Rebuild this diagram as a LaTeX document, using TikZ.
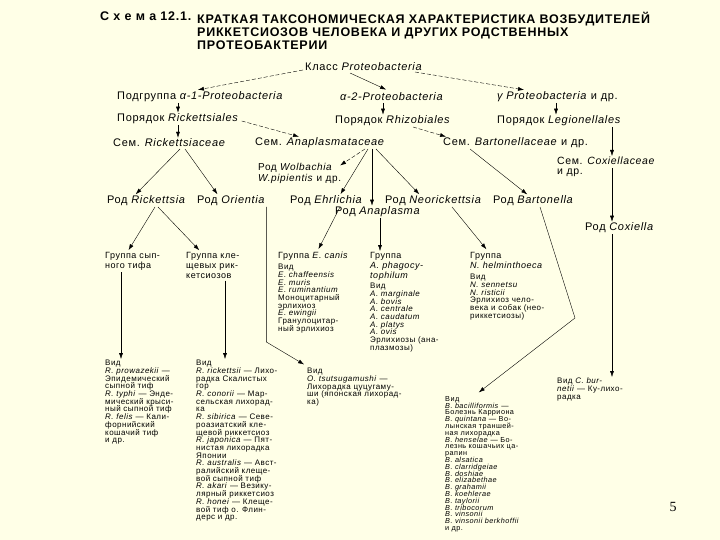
\documentclass[tikz,border=0pt]{standalone}
\usepackage{fontspec}
\setmainfont{Liberation Sans}[LetterSpace=6]
\newfontfamily\pagefont{Liberation Serif}
\usetikzlibrary{arrows.meta}
\definecolor{paper}{RGB}{255,255,231}
\newcommand{\tightlines}{\lineskiplimit=-\maxdimen}

\begin{document}
\begin{tikzpicture}[x=1pt, y=-1pt,
      font=\fontsize{11}{12}\selectfont,
      lbl/.style={anchor=west, inner sep=0pt},
      grp/.style={anchor=north west, inner sep=0pt, align=left,
                  font=\fontsize{9}{10}\selectfont},
      spc/.style={anchor=north west, inner sep=0pt, align=left,
                  font=\fontsize{8}{7.7}\selectfont\tightlines},
      arr/.style={-{Latex[length=6pt,width=4pt]}, thin, shorten >=1pt},
      darr/.style={arr, dash pattern=on 4pt off 2pt}
    ]
    \fill[paper] (0,0) rectangle (720,540);

    % title
    \node[anchor=north west, inner sep=0pt, font=\bfseries\fontsize{12.5}{13}\selectfont]
      (schema) at (100,12) {С х е м а 12.1.};
    \node[anchor=north west, inner sep=0pt, align=left,
          font=\bfseries\fontsize{12.5}{13}\selectfont] (title) at (197,12)
      {КРАТКАЯ ТАКСОНОМИЧЕСКАЯ ХАРАКТЕРИСТИКА ВОЗБУДИТЕЛЕЙ\\
       РИККЕТСИОЗОВ ЧЕЛОВЕКА И ДРУГИХ РОДСТВЕННЫХ\\
       ПРОТЕОБАКТЕРИИ};

    % class, subgroups, orders, families
    \node[lbl] (cls)    at (305,67)  {Класс \textit{Proteobacteria}};
    \node[lbl] (alpha1) at (117,97)  {Подгруппа \textit{α-1-Proteobacteria}};
    \node[lbl] (alpha2) at (340,97)  {\textit{α-2-Proteobacteria}};
    \node[lbl] (gamma)  at (497,97)  {\textit{γ Proteobacteria} и др.};
    \node[lbl] (ordR)   at (117,119) {Порядок \textit{Rickettsiales}};
    \node[lbl] (ordRh)  at (335,121) {Порядок \textit{Rhizobiales}};
    \node[lbl] (ordL)   at (497,121) {Порядок \textit{Legionellales}};
    \node[lbl] (famR)   at (113,143) {Сем. \textit{Rickettsiaceae}};
    \node[lbl] (famA)   at (255,143) {Сем. \textit{Anaplasmataceae}};
    \node[lbl] (famB)   at (443,143) {Сем. \textit{Bartonellaceae} и др.};
    \node[grp, font=\fontsize{10.5}{10}\selectfont] (famC) at (557,157)
      {Сем. \textit{Coxiellaceae}\\и др.};
    \node[grp, font=\fontsize{10}{11}\selectfont] (wol) at (258,163)
      {Род \textit{Wolbachia}\\\textit{W.pipientis} и др.};

    % genera
    \node[lbl] (rick)   at (107,201) {Род \textit{Rickettsia}};
    \node[lbl] (orient) at (197,201) {Род \textit{Orientia}};
    \node[lbl] (ehr)    at (290,201) {Род \textit{Ehrlichia}};
    \node[lbl] (anapl)  at (335,212) {Род \textit{Anaplasma}};
    \node[lbl] (neor)   at (385,201) {Род \textit{Neorickettsia}};
    \node[lbl] (bart)   at (493,201) {Род \textit{Bartonella}};
    \node[lbl] (cox)    at (585,228) {Род \textit{Coxiella}};

    % groups
    \node[grp] (grpT) at (105,252) {Группа сып-\\ного тифа};
    \node[grp] (grpK) at (186,252) {Группа кле-\\щевых рик-\\кетсиозов};
    \node[grp] (grpE) at (278,252) {Группа \textit{E. canis}};
    \node[spc] (spE)  at (278,264) {Вид\\\textit{E. chaffeensis}\\\textit{E. muris}\\
      \textit{E. ruminantium}\\Моноцитарный\\эрлихиоз\\\textit{E. ewingii}\\
      Гранулоцитар-\\ный эрлихиоз};
    \node[grp] (grpA) at (370,252) {Группа\\\textit{A. phagocy-}\\\textit{tophilum}};
    \node[spc] (spA)  at (370,283) {Вид\\\textit{A. marginale}\\\textit{A. bovis}\\
      \textit{A. centrale}\\\textit{A. caudatum}\\\textit{A. platys}\\\textit{A. ovis}\\
      Эрлихиозы (ана-\\плазмозы)};
    \node[grp] (grpN) at (470,252) {Группа\\\textit{N. helminthoeca}};
    \node[spc] (spN)  at (470,274) {Вид\\\textit{N. sennetsu}\\\textit{N. risticii}\\
      Эрлихиоз чело-\\века и собак (нео-\\риккетсиозы)};

    % species
    \node[spc] (spT) at (105,360) {Вид\\\textit{R. prowazekii} —\\Эпидемический\\
      сыпной тиф\\\textit{R. typhi} — Энде-\\мический крыси-\\ный сыпной тиф\\
      \textit{R. felis} — Кали-\\форнийский\\кошачий тиф\\и др.};
    \node[spc] (spK) at (196,360) {Вид\\\textit{R. rickettsii} — Лихо-\\радка Скалистых\\гор\\
      \textit{R. conorii} — Мар-\\сельская лихорад-\\ка\\
      \textit{R. sibirica} — Севе-\\роазиатский кле-\\щевой риккетсиоз\\
      \textit{R. japonica} — Пят-\\нистая лихорадка\\Японии\\
      \textit{R. australis} — Авст-\\ралийский клеще-\\вой сыпной тиф\\
      \textit{R. akari} — Везику-\\лярный риккетсиоз\\
      \textit{R. honei} — Клеще-\\вой тиф о. Флин-\\дерс и др.};
    \node[spc] (spO) at (307,368) {Вид\\\textit{O. tsutsugamushi} —\\Лихорадка цуцугаму-\\
      ши (японская лихорад-\\ка)};
    \node[spc, font=\fontsize{7.3}{6.8}\selectfont\tightlines] (spB) at (445,396)
      {Вид\\\textit{B. bacilliformis} —\\Болезнь Карриона\\
      \textit{B. quintana} — Во-\\лынская траншей-\\ная лихорадка\\
      \textit{B. henselae} — Бо-\\лезнь кошачьих ца-\\рапин\\
      \textit{B. alsatica}\\\textit{B. clarridgeiae}\\\textit{B. doshiae}\\
      \textit{B. elizabethae}\\\textit{B. grahamii}\\\textit{B. koehlerae}\\
      \textit{B. taylorii}\\\textit{B. tribocorum}\\\textit{B. vinsonii}\\
      \textit{B. vinsonii berkhoffii}\\и др.};
    \node[spc] (spC) at (557,378) {Вид \textit{C. bur-}\\\textit{netii} — Ку-лихо-\\радка};

    \node[inner sep=0pt, font=\pagefont\fontsize{14}{14}\selectfont] (page) at (673,507) {5};

    % class -> subgroups
    \draw[darr] ([shift={(-2,3)}]cls.west) -- ([shift={(80,-7)}]alpha1.west);
    \draw[arr]  ([shift={(45,6)}]cls.west) -- ([shift={(47,-7)}]alpha2.west);
    \draw[darr] ([shift={(110,5)}]cls.west) -- ([shift={(28,-7)}]gamma.west);

    % straight down steps
    \foreach \a/\s/\b in {alpha1/61/ordR, alpha2/43/ordRh, gamma/59/ordL,
                          ordR/61/famR, ordL/115/famC, famA/117/anapl}
      \draw[arr] ([shift={(\s,6)}]\a.west) coordinate (t) -- (t |- \b.north);

    \draw[darr] ([shift={(3,2)}]ordR.east) -- ([shift={(45,-6)}]famA.west);
    \draw[darr] ([shift={(78,6)}]ordRh.west) -- ([shift={(4,-6)}]famB.west);

    % families -> genera
    \draw[arr]  ([shift={(67,6)}]famR.west)  -- ([shift={(28,-6)}]rick.west);
    \draw[arr]  ([shift={(72,6)}]famR.west)  -- ([shift={(21,-6)}]orient.west);
    \draw[darr] ([shift={(110,6)}]famA.west) -- ([shift={(-2,3)}]wol.north east);
    \draw[arr]  ([shift={(113,6)}]famA.west) -- ([shift={(50,-6)}]ehr.west);
    \draw[arr]  ([shift={(121,6)}]famA.west) -- ([shift={(35,-6)}]neor.west);
    \draw[arr]  ([shift={(27,6)}]famB.west)  -- ([shift={(35,-6)}]bart.west);
    \draw[arr]  ([shift={(55,11)}]famC.north west) coordinate (t) -- (t |- cox.north);
    \draw[arr]  ([shift={(27,6)}]cox.west) coordinate (t) -- (t |- spC.north);

    % genera -> groups
    \draw[arr] ([shift={(48,6)}]rick.west) -- ([shift={(23,-1)}]grpT.north west);
    \draw[arr] ([shift={(51,6)}]rick.west) -- ([shift={(14,-1)}]grpK.north west);
    \draw[arr] ([shift={(50,6)}]ehr.west)  -- ([shift={(40,-2)}]grpE.north west);
    \draw[arr] ([shift={(45,6)}]anapl.west) coordinate (t) -- (t |- grpA.north);
    \draw[arr] ([shift={(67,6)}]neor.west) -- ([shift={(17,-2)}]grpN.north west);

    % groups and genera -> species
    \draw[arr] ([shift={(16,2)}]grpT.south west) coordinate (t) -- (t |- spT.north);
    \draw[arr] ([shift={(39,2)}]grpK.south west) coordinate (t) -- (t |- spK.north);
    \draw[arr] ([shift={(1,6)}]orient.east) -- ++(0,135) -- ([shift={(-2,-3)}]spO.north west);
    \draw[arr] ([shift={(47,6)}]bart.west) -- (575,318) -- ([shift={(33,-3)}]spB.north west);
  \end{tikzpicture}
\end{document}
